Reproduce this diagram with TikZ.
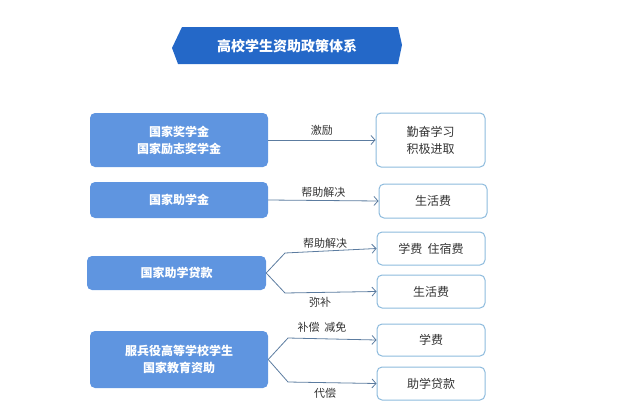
\documentclass[tikz,border=0pt]{standalone}
\usepackage{fontspec}
\setmainfont{Noto Sans CJK SC}
\usetikzlibrary{arrows.meta}
\definecolor{lbox}{HTML}{5F95E0}
\definecolor{rline}{HTML}{8DBBDD}
\definecolor{conn}{HTML}{5C7CA0}
\definecolor{ttl}{HTML}{2468C8}
\begin{document}
\begin{tikzpicture}[x=1pt,y=-1pt,
 lb/.style={fill=lbox,rounded corners=5pt,text=white,font=\fontsize{12}{17}\selectfont\bfseries,align=center},
 rb/.style={draw=rline,line width=1pt,fill=white,rounded corners=5pt,font=\fontsize{12}{17}\selectfont,align=center,text=black!80},
 cn/.style={draw=conn,line width=0.8pt,-{Straight Barb[length=4pt,width=9pt]}},
 lab/.style={font=\fontsize{11}{13}\selectfont,text=black!80}]
\useasboundingbox (0,0) rectangle (618,407);
\fill[ttl] (182,27)--(398,27)--(402,45)--(398,64)--(178,64)--(172,48)--cycle;
\node[text=white,font=\fontsize{14}{16}\selectfont\bfseries] (t) at (287,46) {高校学生资助政策体系};
\node[lb,minimum width=178pt,minimum height=54pt] (l1) at (179,140) {国家奖学金\\国家励志奖学金};
\node[lb,minimum width=178pt,minimum height=36pt] (l2) at (179,200) {国家助学金};
\node[lb,minimum width=179pt,minimum height=34pt] (l3) at (176.5,273) {国家助学贷款};
\node[lb,minimum width=178pt,minimum height=57pt] (l4) at (179,359.5) {服兵役高等学校学生\\国家教育资助};
\node[rb,minimum width=109pt,minimum height=54pt] (r1) at (430.5,140) {勤奋学习\\积极进取};
\node[rb,minimum width=108pt,minimum height=34pt] (r2) at (433,201) {生活费};
\node[rb,minimum width=108pt,minimum height=33pt] (r3) at (431,248.5) {学费\ \ 住宿费};
\node[rb,minimum width=108pt,minimum height=33pt] (r4) at (431,291.5) {生活费};
\node[rb,minimum width=108pt,minimum height=32pt] (r5) at (431,340) {学费};
\node[rb,minimum width=108pt,minimum height=33pt] (r6) at (431,383.5) {助学贷款};
\draw[cn] (l1.east) -- (r1.west) node[lab,midway,above=1pt,xshift=0pt] {激励};
\draw[cn] (l2.east) -- (r2.west) node[lab,midway,above=-1pt] {帮助解决};
\coordinate (a3) at (285,253); \coordinate (b3) at (285,293);
\draw[cn] (l3.east) -- (a3) -- (r3.west);
\draw[cn] (l3.east) -- (b3) -- (r4.west);
\node[lab] (m1) at (325,243) {帮助解决};
\node[lab] (m2) at (320,302) {弥补};
\coordinate (a4) at (288,338); \coordinate (b4) at (288,382);
\draw[cn] (l4.east) -- (a4) -- (r5.west);
\draw[cn] (l4.east) -- (b4) -- (r6.west);
\node[lab] (m3) at (322,327) {补偿\ \ 减免};
\node[lab] (m4) at (325,393) {代偿};
\end{tikzpicture}
\end{document}
